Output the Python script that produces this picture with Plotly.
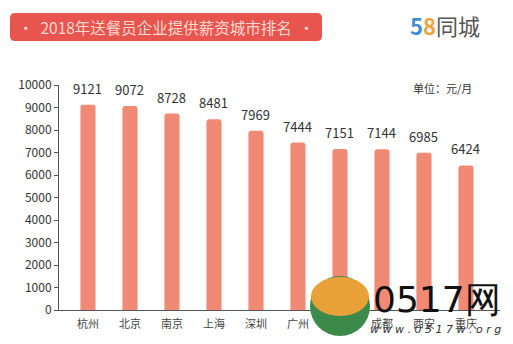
import plotly.graph_objects as go

cities = ["杭州", "北京", "南京", "上海", "深圳", "广州", "天津", "成都", "西安", "重庆"]
salaries = [9121, 9072, 8728, 8481, 7969, 7444, 7151, 7144, 6985, 6424]
y_ticks = list(range(0, 10001, 1000))

W, H = 513, 344
L, R, T, B = 59, 13, 85, 34
FONT = "Noto Sans CJK SC"

def px(x):
    return (x - L) / (W - L - R)

def py(y):
    return (H - B - y) / (H - T - B)

def rounded_rect(x0, y0, x1, y1, r):
    p = lambda x, y: f"{px(x):.5f},{py(y):.5f}"
    return (f"M {p(x0+r,y0)} L {p(x1-r,y0)} Q {p(x1,y0)} {p(x1,y0+r)} "
            f"L {p(x1,y1-r)} Q {p(x1,y1)} {p(x1-r,y1)} L {p(x0+r,y1)} "
            f"Q {p(x0,y1)} {p(x0,y1-r)} L {p(x0,y0+r)} Q {p(x0,y0)} {p(x0+r,y0)} Z")

fig = go.Figure()
fig.add_trace(go.Bar(
    x=cities, y=salaries, width=0.36,
    marker=dict(color="#F08A74", cornerradius=3, line=dict(width=0)),
    hoverinfo="skip",
))

annotations = []
for c, v in zip(cities, salaries):
    annotations.append(dict(x=c, y=v, xref="x", yref="y", text=str(v), showarrow=False,
                            xanchor="center", yanchor="bottom", yshift=5,
                            font=dict(family=FONT, size=13, color="#333333")))

def note(x, y, text, font, xanchor="center"):
    return dict(x=px(x), y=py(y), xref="paper", yref="paper", showarrow=False,
                xanchor=xanchor, yanchor="middle", text=text, font=font)

annotations += [
    note(166, 27, "·  2018年送餐员企业提供薪资城市排名  ·",
         dict(family=FONT, size=15.5, color="#FBD8D0")),
    note(408, 25, "<b><span style='color:#3F8ED2'>5</span><span style='color:#F0A23A'>8</span></b>"
                  "<span style='color:#555555'>同城</span>",
         dict(family=FONT, size=22), xanchor="left"),
    note(411, 88, "单位：元/月", dict(family=FONT, size=11, color="#333333"), xanchor="left"),
    note(437, 299, "0517网", dict(family="DejaVu Sans", size=36, color="#111111")),
    note(435, 329, "<i>w w w . 0 5 1 7 w . o r g</i>",
         dict(family="DejaVu Sans", size=11, color="#333333")),
]

shapes = [
    dict(type="path", xref="paper", yref="paper", path=rounded_rect(10, 13, 322, 41, 5),
         fillcolor="#E8554E", line=dict(width=0), layer="above"),
    dict(type="circle", xref="paper", yref="paper",
         x0=px(310), x1=px(370), y0=py(336), y1=py(276),
         fillcolor="#3C8A4A", line=dict(width=0), layer="above"),
    dict(type="circle", xref="paper", yref="paper",
         x0=px(311), x1=px(369), y0=py(316), y1=py(277),
         fillcolor="#E9A23A", line=dict(width=0), layer="above"),
]

fig.update_layout(
    width=W, height=H,
    margin=dict(l=L, r=R, t=T, b=B),
    paper_bgcolor="white", plot_bgcolor="white",
    showlegend=False,
    font=dict(family=FONT, color="#333333"),
    xaxis=dict(type="category", range=[-0.69, 9.81], showline=True, linecolor="#555555",
               linewidth=1, ticks="", showgrid=False, ticklabelstandoff=4,
               tickfont=dict(family=FONT, size=11, color="#444444")),
    yaxis=dict(range=[0, 10000], tickvals=y_ticks, tickformat="d", showline=True,
               linecolor="#555555", linewidth=1, ticks="outside", ticklen=4,
               tickcolor="#555555", showgrid=False, zeroline=False,
               tickfont=dict(family=FONT, size=12, color="#333333")),
    annotations=annotations,
    shapes=shapes,
)

fig.write_html("out.html")
